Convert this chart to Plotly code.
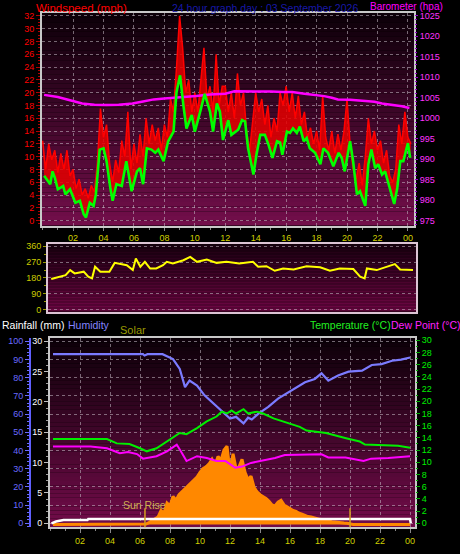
import plotly.graph_objects as go

W, H = 460, 554

# ---------------- DATA ----------------
hour_ticks = [2, 4, 6, 8, 10, 12, 14, 16, 18, 20, 22, 24]
hour_labels = ["02", "04", "06", "08", "10", "12", "14", "16", "18", "20", "22", "00"]

# wind gust (mph), sampled every 0.2 h from 00:00
gust_mph = [12.5, 8, 12, 9.5, 11, 7.5, 10.5, 8, 11, 7,
            8, 5, 6.5, 4, 5, 3.5, 5.5, 4.5, 9, 17.5,
            13, 15, 9, 6, 9.5, 7.5, 12.5, 10, 17, 8,
            12, 9, 13.5, 10, 16, 12, 15, 12.5, 14.5, 11,
            15, 13, 19, 17, 24, 32, 27, 20, 22, 17,
            20, 17, 22, 27, 19, 21, 17, 26, 18, 21,
            21, 17, 20, 16, 23, 18, 20, 14, 11, 16,
            20, 17, 19, 15, 18, 13, 16, 14, 20, 18,
            21, 17, 20, 16, 19.5, 15, 17, 13, 14.5, 12,
            14, 11, 19.5, 13, 11, 14, 10.5, 13.5, 11, 14,
            19, 12, 8, 6.5, 9, 5.5, 10, 16, 12, 14,
            11, 12.5, 9, 11, 7, 6, 8, 15, 12, 17,
            13, 12]
gust_step_h = 0.2

avg_hours = [0.1, 0.5, 0.65, 0.8, 1.0, 1.35, 1.5, 1.8, 2.15, 2.45, 2.7, 2.85, 3.1, 3.35, 3.5, 3.75,
             4.0, 4.2, 4.45, 4.6, 4.85, 5.2, 5.5, 5.85, 6.2, 6.4, 6.6, 6.85, 7.15, 7.4, 7.6, 7.95,
             8.25, 8.6, 8.8, 9.03, 9.25, 9.45, 9.8, 10.0, 10.35, 10.65, 11.0, 11.2, 11.45, 11.65,
             11.85, 12.2, 12.4, 12.85, 13.1, 13.3, 13.5, 13.85, 14.05, 14.3, 14.6, 14.85, 15.1,
             15.4, 15.6, 15.75, 16.05, 16.25, 16.45, 16.7, 16.9, 17.15, 17.35, 17.55, 17.9, 18.25,
             18.45, 18.75, 19.1, 19.45, 19.65, 19.85, 20.2, 20.4, 20.65, 20.85, 21.2, 21.4, 21.6,
             21.85, 22.05, 22.3, 22.5, 22.85, 23.1, 23.3, 23.5, 23.7, 24.0, 24.15]
avg_mph = [7.0, 5.7, 7.7, 6.7, 4.9, 5.4, 4.1, 4.9, 2.8, 3.1, 1.0, 0.5, 2.8, 2.3, 4.1, 11.1,
           11.3, 9.3, 5.1, 3.1, 5.7, 5.4, 9.3, 4.6, 7.7, 8.2, 5.7, 11.3, 11.1, 10.6, 11.1, 9.3,
           12.4, 13.9, 20.1, 22.7, 18.0, 14.4, 16.5, 13.9, 17.0, 19.8, 17.0, 13.9, 18.3, 17.0,
           12.6, 15.7, 13.4, 14.2, 15.7, 15.5, 11.3, 7.2, 10.3, 13.4, 13.4, 11.8, 9.8,
           12.4, 12.2, 10.3, 13.9, 13.7, 14.4, 13.7, 14.7, 12.4, 12.9, 11.3, 10.6, 8.8,
           11.3, 10.6, 8.5, 10.6, 9.8, 7.7, 12.4, 9.3, 4.1, 4.6, 2.3, 8.8, 11.1,
           8.2, 8.8, 7.2, 7.7, 4.6, 2.6, 5.1, 9.3, 9.3, 12.1, 9.8]

baro_hours = [0.1, 1.0, 1.8, 2.6, 3.4, 4.2, 5.0, 5.9, 6.6, 7.3, 8.0, 8.6, 9.3, 10.1, 11.0, 12.0, 12.6,
              13.3, 14.1, 15.0, 15.8, 16.4, 17.2, 17.8, 18.5, 19.0, 19.4, 20.2, 21.2, 21.8, 22.3,
              23.0, 23.6, 24.1]
baro_hpa = [1005.7, 1005.2, 1004.4, 1003.6, 1003.3, 1003.2, 1003.3, 1003.6, 1004.1, 1004.6, 1004.8,
            1004.95, 1005.2, 1005.4, 1005.8, 1006.0, 1006.6, 1006.6, 1006.6, 1006.5, 1006.4, 1006.4,
            1006.0, 1005.8, 1005.4, 1005.0, 1004.6, 1004.5, 1004.2, 1004.0, 1003.6, 1003.3, 1002.9,
            1002.5]

dir_hours = [0.05, 0.6, 1.0, 1.3, 1.6, 2.2, 2.5, 2.75, 2.95, 3.3, 3.9, 4.25, 4.6, 5.05, 5.45, 5.65,
             5.95, 6.25, 6.6, 7.0, 7.45, 7.7, 8.1, 8.8, 9.25, 9.7, 10.35, 11.0, 11.65, 12.5, 13.4,
             13.75, 14.3, 14.85, 15.4, 16.1, 16.95, 17.85, 18.5, 19.15, 20.05, 20.5, 20.8, 20.95,
             21.6, 22.25, 22.8, 23.15, 24.0]
dir_deg = [174, 187, 196, 225, 206, 216, 187, 178, 244, 216, 216, 266, 259, 253, 225, 291,
           244, 272, 234, 234, 253, 272, 262, 281, 300, 272, 285, 266, 272, 262, 272,
           244, 247, 221, 234, 228, 247, 241, 221, 234, 231, 187, 178, 234,
           225, 244, 259, 228, 225]
dir_ticks = [0, 90, 180, 270, 360]
dir_letters = ["N", "E", "S", "W", "N"]

hum_hours = [0.2, 2.0, 4.0, 6.2, 6.3, 6.5, 7.5, 8.2, 8.65, 9.0, 9.3, 9.8, 10.3, 10.9, 11.45, 12.0,
             12.4, 12.9, 13.2, 13.45, 13.9, 14.55, 15.2, 16.1, 17.0, 17.65, 18.1, 18.55, 19.2,
             19.9, 20.8, 21.45, 22.1, 22.8, 23.4, 24.0]
hum_pct = [92.9, 92.9, 92.9, 92.9, 92.2, 92.9, 92.9, 90.2, 84.8, 74.8, 78.4, 75.7, 70.3, 65.8,
           62.1, 57.6, 58.5, 54.9, 58.0, 57.0, 60.3, 64.0, 68.5, 73.0, 77.5, 79.3, 82.4, 78.4,
           81.2, 83.3, 83.9, 87.0, 87.5, 89.3, 89.9, 91.1]

temp_hours = [0.2, 2.0, 3.8, 4.45, 5.3, 6.0, 6.45, 7.1, 7.8, 8.65, 9.1, 9.8, 10.45, 11.1, 11.45,
              11.8, 12.1, 12.4, 12.9, 13.2, 13.8, 14.2, 14.9, 15.8, 16.65, 17.1, 18.4, 19.8,
              20.65, 21.0, 22.1, 23.2, 24.0]
temp_c = [13.8, 13.8, 13.8, 13.1, 13.0, 12.3, 11.8, 12.3, 13.4, 14.8, 14.6, 15.6, 16.7, 17.5,
          18.3, 18.0, 18.5, 18.0, 18.7, 18.0, 18.3, 18.0, 17.2, 16.5, 15.8, 15.2, 14.8, 13.9,
          13.4, 12.9, 12.8, 12.7, 12.4]

dew_hours = [0.2, 2.7, 3.8, 4.65, 5.2, 5.8, 6.2, 7.1, 7.8, 8.45, 8.8, 9.1, 9.8, 10.45, 11.1, 11.7,
             12.35, 12.8, 13.4, 14.1, 15.0, 15.65, 16.3, 17.2, 18.1, 18.55, 19.7, 20.9, 21.4,
             22.55, 23.4, 24.0]
dew_c = [12.6, 12.6, 12.3, 11.5, 11.7, 11.35, 10.6, 11.0, 11.8, 12.9, 11.5, 10.2, 11.0, 10.7,
         10.2, 10.2, 9.1, 9.3, 9.9, 10.2, 10.7, 11.2, 11.2, 11.3, 11.3, 10.8, 10.8, 10.2, 10.6,
         10.7, 10.9, 11.0]

rain_hours = [0.1, 0.4, 0.9, 2.5, 2.55, 24.0, 24.05]
rain_mm = [0.0, 0.3, 0.55, 0.55, 0.7, 0.7, 0.0]

solar_hours = [0.2, 6.0, 6.2, 6.4, 6.6, 6.8, 7.0, 7.2, 7.4, 7.6, 7.8,
               8.0, 8.2, 8.4, 8.6, 8.8, 9.0, 9.2, 9.4, 9.6, 9.8,
               10.0, 10.2, 10.4, 10.6, 10.8, 11.0, 11.2, 11.4, 11.6, 11.8,
               12.0, 12.2, 12.4, 12.6, 12.8, 13.0, 13.2, 13.4, 13.6, 13.8,
               14.0, 14.2, 14.4, 14.6, 14.8, 15.0, 15.2, 15.4, 15.6, 15.8,
               16.0, 16.2, 16.4, 16.6, 16.8, 17.0, 17.2, 17.4, 17.6, 17.8,
               18.0, 18.2, 18.4, 18.6, 18.8, 19.0, 19.2, 19.4, 19.6, 19.8,
               20.0, 20.2, 24.0]
solar_wm2 = [0, 0, 0, 5, 20, 40, 60, 80, 150, 120, 230,
             200, 300, 260, 320, 350, 380, 420, 440, 480, 510,
             560, 600, 620, 650, 700, 640, 730, 690, 800, 840,
             560, 760, 600, 620, 700, 560, 480, 520, 400, 350,
             320, 300, 280, 250, 210, 200, 240, 260, 210, 190,
             170, 150, 140, 120, 110, 95, 85, 80, 70, 60,
             55, 50, 40, 35, 30, 28, 22, 18, 15, 12,
             5, 0, 0]

sun_event_hours = [6.33, 20.0]
sun_event_text = ["Sun Rise", ""]

gust_hours = [round(i * gust_step_h, 2) for i in range(len(gust_mph))]

# ---------------- FIGURE ----------------
FONT = "Liberation Sans"
GRID = "rgba(200,190,200,0.55)"
FRAME = "#c8c8c8"


def dx(p):
    return p / W


def dy(p):
    return 1 - p / H


fig = go.Figure()

# base of the gust band (average wind, not drawn)
fig.add_trace(go.Scatter(x=avg_hours, y=avg_mph, xaxis="x", yaxis="y", mode="lines",
                         line=dict(color="rgba(0,0,0,0)", width=0), hoverinfo="skip", showlegend=False))
fig.add_trace(go.Scatter(x=gust_hours, y=gust_mph, xaxis="x", yaxis="y", mode="lines",
                         fill="tonexty", fillcolor="rgba(230,0,0,0.85)",
                         line=dict(color="#ff0000", width=1.5), hoverinfo="skip", showlegend=False))
fig.add_trace(go.Scatter(x=baro_hours, y=baro_hpa, xaxis="x", yaxis="y2", mode="lines",
                         line=dict(color="#ff00ff", width=2.5), showlegend=False))
fig.add_trace(go.Scatter(x=avg_hours, y=avg_mph, xaxis="x", yaxis="y3", mode="lines",
                         line=dict(color="#00ff00", width=2.6), showlegend=False))
fig.add_trace(go.Scatter(x=dir_hours, y=dir_deg, xaxis="x2", yaxis="y4", mode="lines",
                         line=dict(color="#ffff00", width=2), showlegend=False))
fig.add_trace(go.Scatter(x=solar_hours, y=solar_wm2, xaxis="x3", yaxis="y6", mode="lines",
                         fill="tozeroy", fillcolor="#ff8800",
                         line=dict(color="#ff8800", width=3), showlegend=False))
fig.add_trace(go.Scatter(x=rain_hours, y=rain_mm, xaxis="x3", yaxis="y7", mode="lines",
                         line=dict(color="#ffffff", width=2.5), showlegend=False))
fig.add_trace(go.Scatter(x=hum_hours, y=hum_pct, xaxis="x3", yaxis="y8", mode="lines",
                         line=dict(color="#7b7bff", width=2.2), showlegend=False))
fig.add_trace(go.Scatter(x=temp_hours, y=temp_c, xaxis="x3", yaxis="y9", mode="lines",
                         line=dict(color="#00ee00", width=2), showlegend=False))
fig.add_trace(go.Scatter(x=dew_hours, y=dew_c, xaxis="x3", yaxis="y9", mode="lines",
                         line=dict(color="#ff00ff", width=2), showlegend=False))

# gradient backgrounds
shapes = []


def gradient(xr, yr, top, bot, n=45):
    for i in range(n):
        t = (i + 0.5) / n
        c = tuple(int(round(bot[k] + (top[k] - bot[k]) * t)) for k in range(3))
        shapes.append(dict(type="rect", xref=xr + " domain", yref=yr + " domain",
                           x0=0, x1=1, y0=i / n, y1=(i + 1) / n,
                           fillcolor="rgb(%d,%d,%d)" % c, line=dict(width=0), layer="below"))


gradient("x", "y", (12, 0, 8), (115, 14, 75))
gradient("x2", "y4", (26, 0, 16), (112, 6, 68))
gradient("x3", "y6", (12, 0, 8), (115, 12, 74))

for h in sun_event_hours:
    shapes.append(dict(type="line", xref="x3", yref="y6 domain", x0=h, x1=h, y0=0, y1=0.1,
                       line=dict(color="#d4a020", width=1.5), layer="above"))

ann = []
for h, t in zip(sun_event_hours, sun_event_text):
    if t:
        ann.append(dict(x=h, xref="x3", y=0.12, yref="y6 domain", text=t, showarrow=False,
                        xanchor="center", yanchor="middle",
                        font=dict(color="#d0b050", size=10.5, family=FONT)))


def title(x, y, text, color, size=11):
    ann.append(dict(x=dx(x), y=dy(y), xref="paper", yref="paper", text=text, showarrow=False,
                    xanchor="left", yanchor="middle", font=dict(color=color, size=size, family=FONT)))


title(34, 5.5, "Windspeed (mph)", "#ff0000", 11.5)
title(170, 5.5, "24 hour graph day : 03 September 2026", "#1818a8", 10.5)
title(368, 4, "Barometer (hpa)", "#ff00ff", 10)
title(0, 326, "Rainfall (mm)", "#ffffff", 10.5)
title(66, 326, "Humidity", "#8484ff", 10.5)
title(118, 331, "Solar", "#9a9a00", 11)
title(308, 326, "Temperature (°C)", "#22ee22", 10.5)
title(389, 326, "Dew Point (°C)", "#ff22ff", 10.5)

tickf = lambda c, s=9: dict(color=c, size=s, family=FONT)

fig.update_layout(
    width=W, height=H, margin=dict(l=0, r=0, t=0, b=0),
    paper_bgcolor="#000000", plot_bgcolor="#000000",
    showlegend=False, shapes=shapes, annotations=ann,
    font=dict(family=FONT),
    xaxis=dict(domain=[dx(42), dx(414)], range=[-0.04, 24.4], anchor="y",
               tickvals=hour_ticks, ticktext=hour_labels, tickfont=tickf("#d0d000"),
               ticks="outside", ticklen=3, tickcolor="#888888",
               minor=dict(dtick=1, ticklen=2, ticks="outside", tickcolor="#888888"),
               showgrid=True, gridcolor=GRID, griddash="dot", gridwidth=1,
               showline=True, linecolor=FRAME, linewidth=2, mirror=True, zeroline=False),
    yaxis=dict(domain=[dy(225), dy(10)], range=[-0.77, 32.46], anchor="x",
               tickvals=list(range(0, 33, 2)), tickfont=tickf("#ff0000"),
               ticks="outside", ticklen=4, tickcolor="#b00000",
               minor=dict(dtick=0.5, ticklen=2, ticks="outside", tickcolor="#b00000"),
               showgrid=True, gridcolor=GRID, griddash="dot", gridwidth=1,
               showline=True, linecolor=FRAME, linewidth=2, mirror=True, zeroline=False),
    yaxis2=dict(overlaying="y", side="right", anchor="x", range=[973.79, 1025.72],
                tickvals=list(range(975, 1026, 5)), tickfont=tickf("#ff33ff"),
                ticks="outside", ticklen=3, tickcolor="#9900cc",
                minor=dict(dtick=1, ticklen=2, ticks="outside", tickcolor="#9900cc"),
                showgrid=False, zeroline=False, showline=False),
    yaxis3=dict(overlaying="y", anchor="x", range=[-0.77, 32.46], visible=False),
    xaxis2=dict(domain=[dx(48), dx(416)], range=[-0.166, 24.2], anchor="y4",
                showticklabels=False, ticks="", showgrid=False,
                showline=True, linecolor="#dcc4d4", linewidth=2, mirror=True, zeroline=False),
    yaxis4=dict(domain=[dy(312), dy(244)], range=[-11.25, 371.25], anchor="x2",
                tickvals=dir_ticks, tickfont=tickf("#cccc00"),
                ticks="outside", ticklen=3, tickcolor="#999900",
                minor=dict(dtick=45, ticklen=2, ticks="outside", tickcolor="#999900"),
                showgrid=True, gridcolor=GRID, griddash="dot", gridwidth=1,
                showline=True, linecolor="#dcc4d4", linewidth=2, mirror=True, zeroline=False),
    yaxis5=dict(overlaying="y4", side="right", anchor="x2", range=[-11.25, 371.25],
                tickvals=dir_ticks, ticktext=dir_letters, tickfont=tickf("#ffff00", 12),
                ticks="", showgrid=False, zeroline=False, showline=False, ticklabelstandoff=10),
    xaxis3=dict(domain=[dx(50), dx(415)], range=[0, 24.33], anchor="y6",
                tickvals=hour_ticks, ticktext=hour_labels, tickfont=tickf("#d0d000"),
                ticks="outside", ticklen=4, tickcolor="#888888",
                minor=dict(dtick=1, ticklen=2, ticks="outside", tickcolor="#888888"),
                showgrid=True, gridcolor=GRID, griddash="dot", gridwidth=1,
                showline=True, linecolor=FRAME, linewidth=2, mirror=True, zeroline=False),
    yaxis6=dict(domain=[dy(530), dy(339)], range=[-30, 2000], anchor="x3", visible=False),
    yaxis7=dict(overlaying="y6", anchor="x3", side="left", range=[-0.65, 30.49],
                tickvals=list(range(0, 31, 5)), tickfont=tickf("#ffffff"),
                ticks="outside", ticklen=4, tickcolor="#c0c0c0",
                minor=dict(dtick=1, ticklen=2, ticks="outside", tickcolor="#a0a0a0"),
                showgrid=False, zeroline=False,
                showline=True, linecolor=FRAME, linewidth=2, mirror=True),
    yaxis8=dict(overlaying="y6", anchor="free", position=dx(30), side="left",
                range=[-2.17, 101.63], tickvals=list(range(0, 101, 10)), tickfont=tickf("#6a6aff"),
                ticks="outside", ticklen=4, tickcolor="#6a6aff",
                minor=dict(dtick=2, ticklen=2, ticks="outside", tickcolor="#6a6aff"),
                showgrid=True, gridcolor=GRID, griddash="dot", gridwidth=1, zeroline=False,
                showline=True, linecolor="#6060ff", linewidth=2),
    yaxis9=dict(overlaying="y6", anchor="x3", side="right", range=[-0.65, 30.32],
                tickvals=list(range(0, 31, 2)), tickfont=tickf("#00ee00"),
                ticks="outside", ticklen=4, tickcolor="#00aa00",
                minor=dict(dtick=1, ticklen=2, ticks="outside", tickcolor="#00aa00"),
                showgrid=False, zeroline=False, showline=False),
)

fig.write_html("out.html", config={"displayModeBar": False},
               post_script="document.body.style.margin='0';")
